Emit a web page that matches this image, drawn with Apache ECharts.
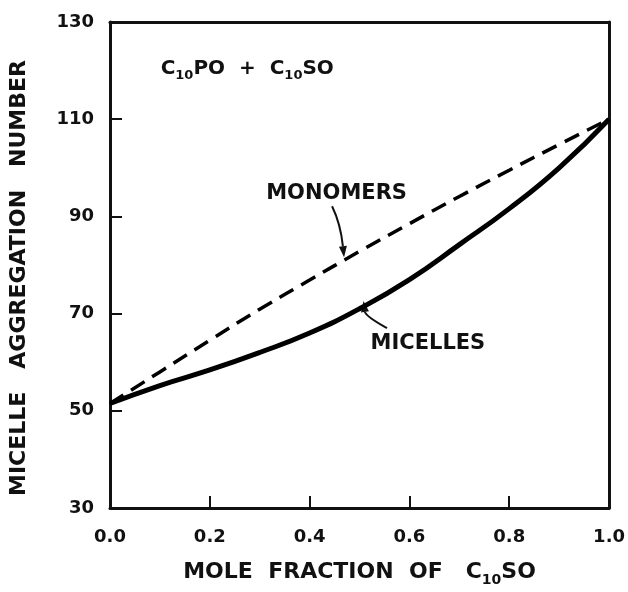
<!DOCTYPE html>
<html>
<head>
<meta charset="utf-8">
<script src="https://cdn.jsdelivr.net/npm/echarts@6/dist/echarts.min.js"></script>
<style>
  html, body { margin: 0; padding: 0; background: #fff; }
  #chart { width: 628px; height: 592px; }
</style>
</head>
<body>
<div id="chart"></div>
<script>
// mole fraction of C10SO
const fractions = [0, 0.1, 0.2, 0.3, 0.4, 0.5, 0.6, 0.7, 0.8, 0.9, 1.0]
// aggregation number
const micelles = [51.5, 55.2, 58.4, 62, 66, 71, 77, 84.2, 91.6, 100, 110]
const monomers = [51.5, 58, 64.5, 70.9, 76.9, 82.8, 88.5, 94.1, 99.5, 104.8, 110]
const yTicks = [30, 50, 70, 90, 110, 130]

const font = 'DejaVu Sans'

let options = {
  animation: false,
  grid: { left: 104, right: 17, top: 22, bottom: 74 },
  xAxis: [
    {
      type: 'value',
      min: 0,
      max: 1,
      interval: 0.2,
      name: '{a|MOLE  FRACTION  OF   C}{s|10}{a|SO}',
      nameLocation: 'middle',
      nameGap: 50,
      nameTextStyle: {
        rich: {
          a: { fontFamily: font, fontSize: 22, fontWeight: 'bold', color: '#111' },
          s: { fontFamily: font, fontSize: 14, fontWeight: 'bold', color: '#111', padding: [15, 0, 0, 0] }
        }
      },
      axisLine: { onZero: false, lineStyle: { color: '#111', width: 3 } },
      axisTick: { inside: true, length: 12, lineStyle: { color: '#111', width: 2 } },
      axisLabel: {
        margin: 20,
        color: '#111',
        fontFamily: font,
        fontSize: 18,
        fontWeight: 'bold',
        formatter: (v) => v.toFixed(1)
      },
      splitLine: { show: false }
    },
    {
      type: 'value',
      position: 'top',
      min: 0,
      max: 1,
      axisLine: { onZero: false, lineStyle: { color: '#111', width: 3 } },
      axisTick: { show: false },
      axisLabel: { show: false },
      splitLine: { show: false }
    }
  ],
  yAxis: [
    {
      type: 'value',
      min: yTicks[0],
      max: yTicks[yTicks.length - 1],
      interval: 20,
      name: 'MICELLE   AGGREGATION   NUMBER',
      nameLocation: 'middle',
      nameGap: 80,
      nameTextStyle: {
        fontFamily: font,
        fontSize: 22,
        fontWeight: 'bold',
        color: '#111',
        padding: [0, 26, 0, 0]
      },
      axisLine: { onZero: false, lineStyle: { color: '#111', width: 3 } },
      axisTick: { inside: true, length: 12, lineStyle: { color: '#111', width: 2 } },
      axisLabel: { margin: 16, color: '#111', fontFamily: font, fontSize: 18, fontWeight: 'bold' },
      splitLine: { show: false }
    },
    {
      type: 'value',
      position: 'right',
      min: yTicks[0],
      max: yTicks[yTicks.length - 1],
      axisLine: { onZero: false, lineStyle: { color: '#111', width: 3 } },
      axisTick: { show: false },
      axisLabel: { show: false },
      splitLine: { show: false }
    }
  ],
  series: [
    {
      name: 'MICELLES',
      type: 'line',
      smooth: true,
      symbol: 'none',
      lineStyle: { color: '#000', width: 5 },
      data: fractions.map((x, i) => [x, micelles[i]])
    },
    {
      name: 'MONOMERS',
      type: 'line',
      smooth: true,
      symbol: 'none',
      lineStyle: { color: '#000', width: 3.5, type: [16, 9] },
      data: fractions.map((x, i) => [x, monomers[i]])
    }
  ]
}

let myChart = echarts.init(document.getElementById('chart'))
myChart.setOption(options)

// annotations, placed in data coordinates
const px = (x, y) => myChart.convertToPixel({ gridIndex: 0 }, [x, y])

function arrow (from, ctrl, to) {
  let a = px(from[0], from[1])
  let c = px(ctrl[0], ctrl[1])
  let b = px(to[0], to[1])
  let ang = Math.atan2(b[1] - c[1], b[0] - c[0])
  let len = 11
  let w = 4
  let base = [b[0] - len * Math.cos(ang), b[1] - len * Math.sin(ang)]
  let nx = -Math.sin(ang)
  let ny = Math.cos(ang)
  return [
    {
      type: 'bezierCurve',
      shape: { x1: a[0], y1: a[1], cpx1: c[0], cpy1: c[1], x2: base[0], y2: base[1] },
      style: { stroke: '#111', lineWidth: 2, fill: null }
    },
    {
      type: 'polygon',
      shape: { points: [b, [base[0] + nx * w, base[1] + ny * w], [base[0] - nx * w, base[1] - ny * w]] },
      style: { fill: '#111' }
    }
  ]
}

function label (x, y, text, rich) {
  let p = px(x, y)
  return {
    type: 'text',
    x: p[0],
    y: p[1],
    style: {
      text: text,
      align: 'center',
      verticalAlign: 'middle',
      fontFamily: font,
      fontSize: 21,
      fontWeight: 'bold',
      fill: '#111',
      rich: rich
    }
  }
}

const subRich = {
  a: { fontFamily: font, fontSize: 20, fontWeight: 'bold', fill: '#111' },
  s: { fontFamily: font, fontSize: 13, fontWeight: 'bold', fill: '#111', padding: [13, 0, 0, 0] }
}

myChart.setOption({
  graphic: [
    label(0.275, 120.3, '{a|C}{s|10}{a|PO  +  C}{s|10}{a|SO}', subRich),
    label(0.454, 94.6, 'MONOMERS'),
    label(0.637, 63.8, 'MICELLES'),
    ...arrow([0.445, 92.1], [0.462, 88.5], [0.469, 81.6]),
    ...arrow([0.555, 67.0], [0.512, 69.5], [0.508, 72.6])
  ]
})
</script>
</body>
</html>
